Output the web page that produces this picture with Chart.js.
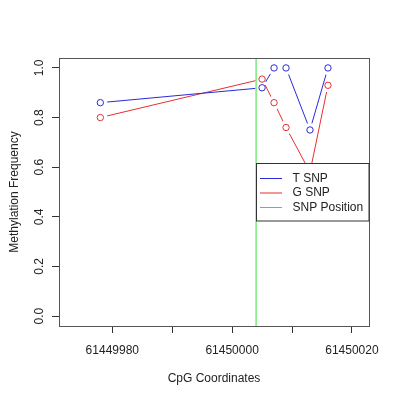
<!DOCTYPE html>
<html>
<head>
  <script src="https://cdn.jsdelivr.net/npm/chart.js"></script>
  <style>
    body { margin: 0; background: #fff; }
  </style>
</head>
<body>
  <canvas id="methChart" width="400" height="400"></canvas>
</body>
<script>
  // CpG positions and methylation frequency per allele
  var cpgPositions = [61449978, 61450005, 61450007, 61450009, 61450013, 61450016];
  var tSnp = [0.86, 0.92, 1.0, 1.0, 0.75, 1.0];
  var gSnp = [0.80, 0.955, 0.86, 0.76, 0.58, 0.93];
  var snpPosition = 61450004;

  // axis ticks (R style: all ticks marked, only some labelled)
  var xTicks = [61449980, 61449990, 61450000, 61450010, 61450020];
  var xTickLabels = ['61449980', '', '61450000', '', '61450020'];
  var yTicks = [0, 0.2, 0.4, 0.6, 0.8, 1.0];
  var yTickLabels = ['0.0', '0.2', '0.4', '0.6', '0.8', '1.0'];

  var xRange = [61449971.1, 61450022.85];
  var yRange = [-0.04, 1.04];

  var FONT = '12px "Liberation Sans", Arial, sans-serif';

  function toPoints(xs, ys) {
      return xs.map(function (x, i) { return { x: x, y: ys[i] }; });
  }

  var data = {
      datasets: [
          {
              label: 'T SNP',
              data: toPoints(cpgPositions, tSnp),
              borderColor: '#2a2ad6',
              pointBorderColor: '#2a2ad6',
              pointBackgroundColor: '#ffffff',
              pointRadius: 3.2,
              pointBorderWidth: 1,
              borderWidth: 1,
              gapped: true,
          },
          {
              label: 'G SNP',
              data: toPoints(cpgPositions, gSnp),
              borderColor: '#e53030',
              pointBorderColor: '#e53030',
              pointBackgroundColor: '#ffffff',
              pointRadius: 3.2,
              pointBorderWidth: 1,
              borderWidth: 1,
              gapped: true,
          },
          {
              label: 'SNP Position',
              data: [{ x: snpPosition, y: yRange[0] }, { x: snpPosition, y: yRange[1] }],
              borderColor: '#3ddc3d',
              pointRadius: 0,
              borderWidth: 1,
          },
      ],
  };

  // type="b" look: the line stops short of each point
  var pointGaps = {
      id: 'pointGaps',
      beforeDatasetDraw: function (chart, args) {
          var ds = chart.data.datasets[args.index];
          if (!ds.gapped) return;
          var ctx = chart.ctx;
          ctx.save();
          // cut one disc per point (successive clips intersect)
          args.meta.data.forEach(function (pt) {
              ctx.beginPath();
              ctx.rect(0, 0, chart.width, chart.height);
              ctx.moveTo(pt.x + 7, pt.y);
              ctx.arc(pt.x, pt.y, 7, 0, Math.PI * 2);
              ctx.clip('evenodd');
          });
      },
      afterDatasetDraw: function (chart, args) {
          var ds = chart.data.datasets[args.index];
          if (!ds.gapped) return;
          var ctx = chart.ctx;
          ctx.restore();
          // points themselves, unclipped
          args.meta.data.forEach(function (pt) { pt.draw(ctx, chart.chartArea); });
      },
  };

  // draws frame, tick labels, titles and the legend box in R style
  var rStyle = {
      id: 'rStyle',
      afterDraw: function (chart) {
          var ctx = chart.ctx;
          var a = chart.chartArea;
          var xs = chart.scales.x;
          var ys = chart.scales.y;
          ctx.save();
          ctx.font = FONT;
          ctx.fillStyle = '#222';

          // plot frame
          ctx.strokeStyle = '#555';
          ctx.lineWidth = 1;
          ctx.strokeRect(Math.round(a.left) + 0.5, Math.round(a.top) + 0.5,
                         Math.round(a.right - a.left), Math.round(a.bottom - a.top));

          // x tick labels
          ctx.textAlign = 'center';
          ctx.textBaseline = 'middle';
          xTicks.forEach(function (v, i) {
              if (xTickLabels[i]) ctx.fillText(xTickLabels[i], xs.getPixelForValue(v), 351);
          });
          ctx.fillText('CpG Coordinates', (a.left + a.right) / 2, 379);

          // y tick labels, rotated
          yTicks.forEach(function (v, i) {
              ctx.save();
              ctx.translate(40, ys.getPixelForValue(v));
              ctx.rotate(-Math.PI / 2);
              ctx.fillText(yTickLabels[i], 0, 0);
              ctx.restore();
          });
          ctx.save();
          ctx.translate(15, (a.top + a.bottom) / 2);
          ctx.rotate(-Math.PI / 2);
          ctx.fillText('Methylation Frequency', 0, 0);
          ctx.restore();

          // legend
          var lx = 256.5, ly = 163.5, lw = 112.5, lh = 57.5;
          ctx.fillStyle = '#fff';
          ctx.fillRect(lx, ly, lw, lh);
          ctx.strokeStyle = '#333';
          ctx.strokeRect(lx, ly, lw, lh);
          ctx.textAlign = 'left';
          chart.data.datasets.forEach(function (ds, i) {
              var yy = 178.5 + i * 14.5;
              ctx.strokeStyle = ds.borderColor;
              ctx.beginPath();
              ctx.moveTo(260, yy);
              ctx.lineTo(282, yy);
              ctx.stroke();
              ctx.fillStyle = '#222';
              ctx.fillText(ds.label, 292.5, yy);
          });
          ctx.restore();
      },
  };

  var ctx = document.getElementById('methChart').getContext('2d');

  var methChart = new Chart(ctx, {
      type: 'line',
      data: data,
      plugins: [pointGaps, rStyle],
      options: {
          responsive: false,
          animation: false,
          devicePixelRatio: 1,
          layout: {
              padding: { top: 58, right: 31, left: 0, bottom: 0 },
          },
          scales: {
              x: {
                  type: 'linear',
                  min: xRange[0],
                  max: xRange[1],
                  afterBuildTicks: function (scale) {
                      scale.ticks = xTicks.map(function (v) { return { value: v }; });
                  },
                  afterFit: function (scale) { scale.height = 74; },
                  ticks: { display: false },
                  grid: { drawOnChartArea: false, drawTicks: true, tickLength: 7, color: '#333' },
                  border: { display: false },
              },
              y: {
                  type: 'linear',
                  min: yRange[0],
                  max: yRange[1],
                  afterBuildTicks: function (scale) {
                      scale.ticks = yTicks.map(function (v) { return { value: v }; });
                  },
                  afterFit: function (scale) { scale.width = 59; },
                  ticks: { display: false },
                  grid: { drawOnChartArea: false, drawTicks: true, tickLength: 7, color: '#333' },
                  border: { display: false },
              },
          },
          plugins: {
              legend: { display: false },
              tooltip: { enabled: false },
          },
      },
  });
</script>

</html>
